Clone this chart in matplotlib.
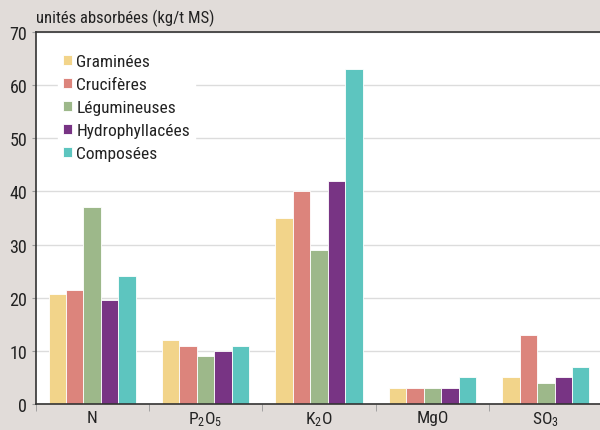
import numpy as np
import matplotlib.pyplot as plt
from matplotlib import font_manager

# data
categories = [r'N', r'P$_2$O$_5$', r'K$_2$O', r'MgO', r'SO$_3$']
series = ['Graminées', 'Crucifères', 'Légumineuses', 'Hydrophyllacées', 'Composées']
graminees = [20.7, 12, 35, 3, 5]
cruciferes = [21.4, 11, 40, 3, 13]
legumineuses = [37, 9, 29, 3, 4]
hydrophyllacees = [19.5, 10, 42, 3, 5]
composees = [24, 11, 63, 5, 7]
colors = ['#f2d48a', '#dc847c', '#9db88a', '#783484', '#5dc5bf']
values = [graminees, cruciferes, legumineuses, hydrophyllacees, composees]

# pick a condensed sans if one is around
names = {f.name for f in font_manager.fontManager.ttflist}
wanted = ['Roboto Condensed', 'Liberation Sans Narrow', 'Archivo Narrow',
          'PT Sans Narrow', 'Fira Sans Condensed', 'Roboto']
fam = [n for n in wanted if n in names][:1]
plt.rcParams['font.family'] = fam + ['DejaVu Sans']
plt.rcParams['mathtext.default'] = 'regular'

bg = '#e1dcd9'
fig = plt.figure(figsize=(6, 4.31), dpi=100, facecolor=bg)
ax = fig.add_axes([35.5/600, 26/431, 567/600, 372/431])
ax.set_facecolor('white')

x = np.arange(len(categories))
w = 0.154
for i, (s, v, c) in enumerate(zip(series, values, colors)):
    ax.bar(x + (i - 2)*w, v, w, color=c, edgecolor='white', linewidth=0.6,
           label=s, zorder=3)

ax.set_xlim(-0.5, 4.5)
ax.set_ylim(0, 70)
ax.set_yticks(range(0, 80, 10))
ax.yaxis.grid(True, color='#dcdcdc', linewidth=1, zorder=0)
ax.set_xticks(x)
ax.set_xticklabels(categories, fontsize=12.5, color='#222222')
ax.set_xticks(np.arange(-0.5, 5, 1), minor=True)
ax.tick_params(axis='x', which='major', length=0, pad=4)
ax.tick_params(axis='x', which='minor', length=5, color='#999999', direction='out')
ax.tick_params(axis='y', length=3, color='#999999', labelsize=13,
               labelcolor='#222222', pad=3)

for sp in ['left', 'bottom', 'top']:
    ax.spines[sp].set_color('#333333')
    ax.spines[sp].set_linewidth(1.2)
    ax.spines[sp].set_zorder(4)
ax.spines['right'].set_visible(False)

fig.text(36/600, 1 - 18/431, 'unités absorbées (kg/t MS)', fontsize=12,
         color='#222222', va='center', ha='left')

leg = ax.legend(loc='upper left', bbox_to_anchor=(0.04, 0.955), frameon=True,
                fontsize=12.5, handlelength=0.5, handleheight=0.5,
                handletextpad=0.25, labelspacing=0.46, borderpad=0.3,
                borderaxespad=0)
leg.get_frame().set_facecolor('white')
leg.get_frame().set_edgecolor('white')
leg.get_frame().set_alpha(1)
leg.set_zorder(5)
for t in leg.get_texts():
    t.set_color('#222222')

fig.savefig('out.png', dpi=100, facecolor=bg)
